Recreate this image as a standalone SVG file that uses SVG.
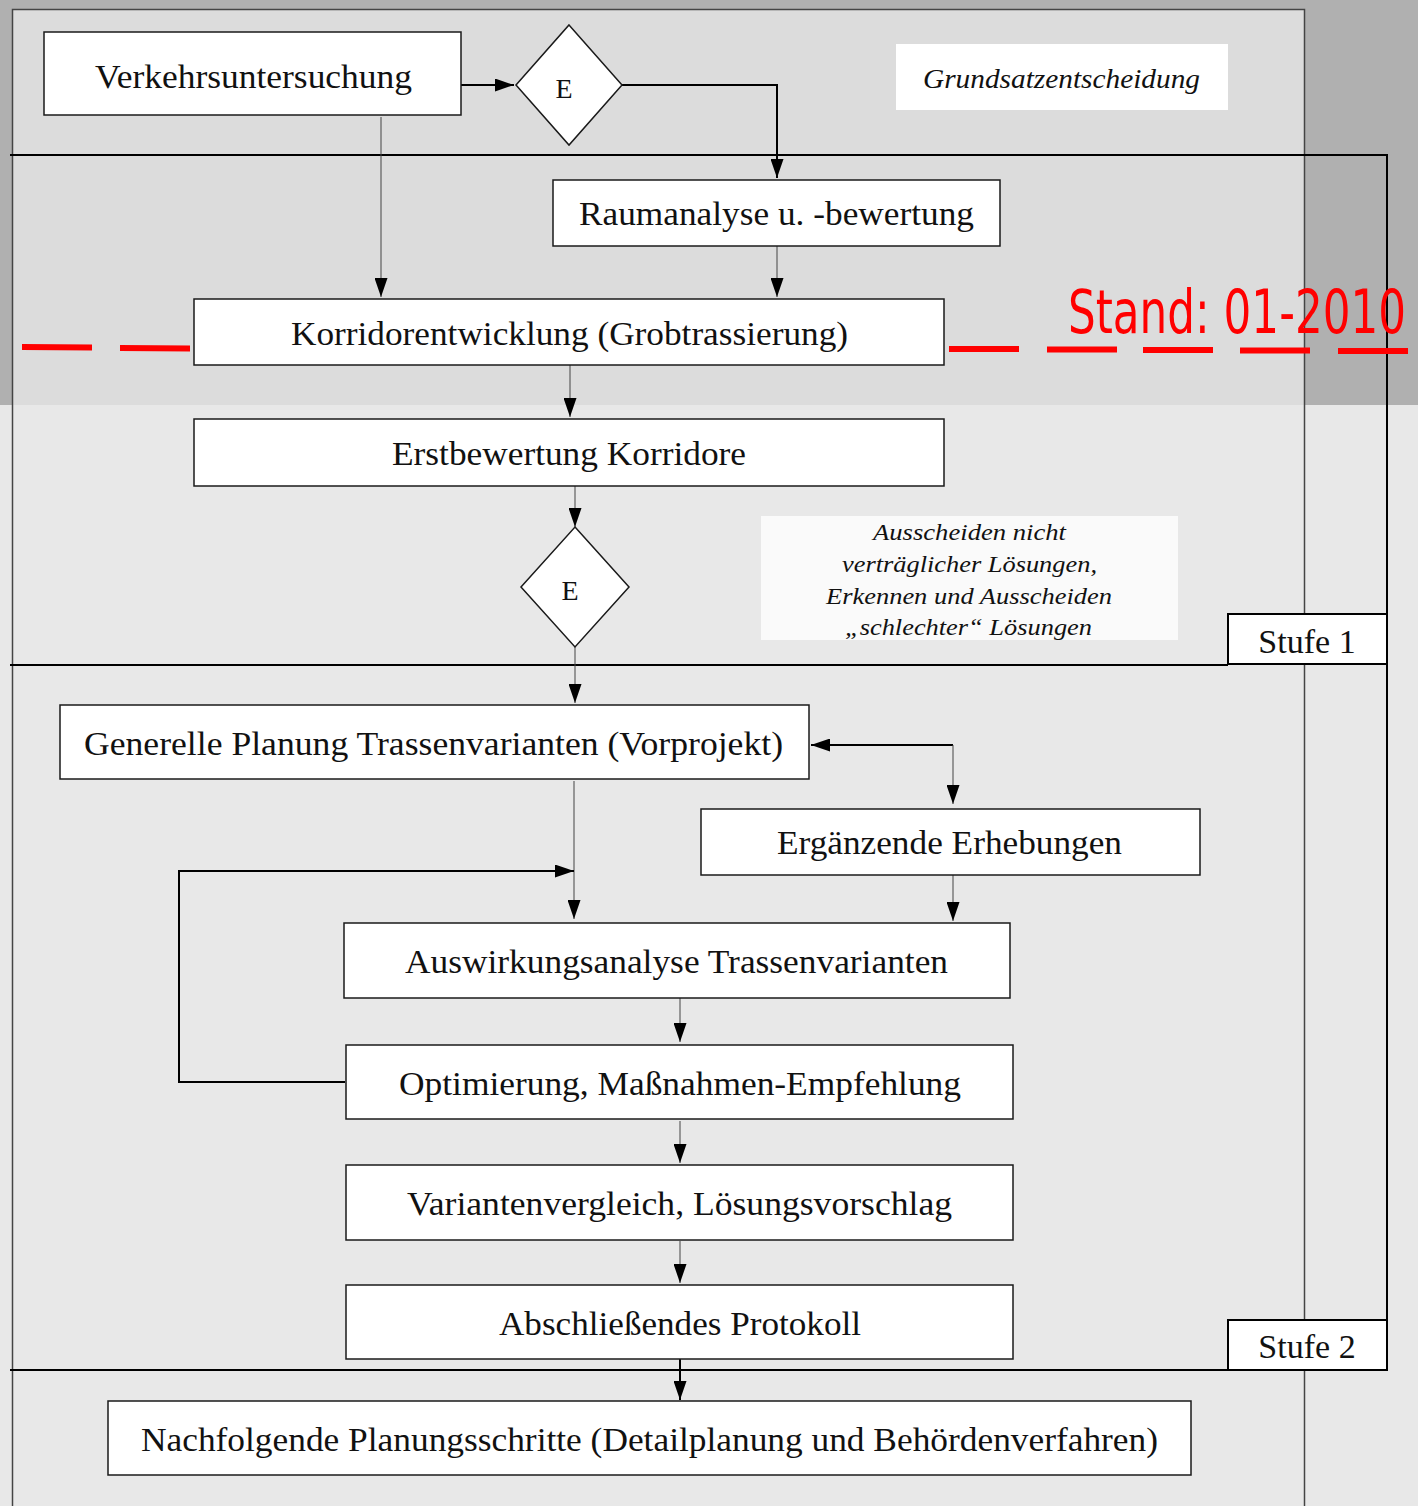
<svg xmlns="http://www.w3.org/2000/svg" width="1418" height="1506" viewBox="0 0 1418 1506">
<style>
.box{fill:#fff;stroke:#1a1a1a;stroke-width:1.5}
.t{font-family:"Liberation Serif","Times New Roman",serif;font-size:34px;fill:#111;text-anchor:middle}
.it{font-family:"Liberation Serif","Times New Roman",serif;font-style:italic;fill:#111;text-anchor:middle}
.thin{fill:none;stroke:#444;stroke-width:1}
.thick{fill:none;stroke:#000;stroke-width:2}
.frame{fill:none;stroke:#000;stroke-width:2}
.red{stroke:#ff0000;stroke-width:6}
</style>
<defs>
<marker id="ah" markerUnits="userSpaceOnUse" markerWidth="19" markerHeight="13" refX="19" refY="6.5" orient="auto-start-reverse" viewBox="0 0 19 13">
<path d="M0,0 L19,6.5 L0,13 z" fill="#000"/>
</marker>
</defs>
<g id="background">
<rect x="0" y="0" width="1418" height="1506" fill="#e8e8e8"/>
<rect x="0" y="0" width="1418" height="405" fill="#b0b0b0"/>
<rect x="12" y="9" width="1292" height="396" fill="#dcdcdc"/>
<path d="M12.5,1506 V9.5 H1304.5 V1506" fill="none" stroke="#444" stroke-width="1.5"/>
</g>
<g id="frame">
<path class="frame" d="M10,155 H1387 V1370 H10"/>
<path class="frame" d="M10,665 H1228"/>
</g>
<g id="connectors">
<path class="thick" d="M461,85 H514" marker-end="url(#ah)"/>
<path class="thick" d="M622,85 H777 V178" marker-end="url(#ah)"/>
<path class="thin" d="M381,117 V297" marker-end="url(#ah)"/>
<path class="thin" d="M777,246 V297" marker-end="url(#ah)"/>
<path class="thin" d="M570,365 V417" marker-end="url(#ah)"/>
<path class="thin" d="M575,486 V527" marker-end="url(#ah)"/>
<path class="thin" d="M575,647 V703" marker-end="url(#ah)"/>
<path class="thick" d="M811,745 H953" marker-start="url(#ah)"/>
<path class="thin" d="M953,745 V804" marker-end="url(#ah)"/>
<path class="thin" d="M574,781 V919" marker-end="url(#ah)"/>
<path class="thin" d="M953,875 V921" marker-end="url(#ah)"/>
<path class="thick" d="M345,1082 H178 M179,1082 V871 H574" marker-end="url(#ah)"/>
<path class="thin" d="M680,998 V1042" marker-end="url(#ah)"/>
<path class="thin" d="M680,1121 V1163" marker-end="url(#ah)"/>
<path class="thin" d="M680,1241 V1283" marker-end="url(#ah)"/>
<path class="thick" d="M680,1359 V1400" marker-end="url(#ah)"/>
</g>
<g id="n-verkehr">
<rect class="box" x="44" y="32" width="417" height="83"/>
<text class="t" x="253.5" y="88" textLength="317" lengthAdjust="spacingAndGlyphs">Verkehrsuntersuchung</text>
</g>
<g id="n-e1">
<polygon class="box" points="569,25 622,85 569,145 516,85"/>
<text class="t" x="564" y="98" style="font-size:28px">E</text>
</g>
<g id="n-grundsatz">
<rect x="896" y="44" width="332" height="66" fill="#fff"/>
<text class="it" x="1061.5" y="88" style="font-size:28px" textLength="277" lengthAdjust="spacingAndGlyphs">Grundsatzentscheidung</text>
</g>
<g id="n-raum">
<rect class="box" x="553" y="180" width="447" height="66"/>
<text class="t" x="776.5" y="225" textLength="395" lengthAdjust="spacingAndGlyphs">Raumanalyse u. -bewertung</text>
</g>
<g id="n-korridor">
<rect class="box" x="194" y="299" width="750" height="66"/>
<text class="t" x="569.5" y="345" textLength="557" lengthAdjust="spacingAndGlyphs">Korridorentwicklung (Grobtrassierung)</text>
</g>
<g id="stand">
<line class="red" x1="22" y1="347" x2="92" y2="347.5"/>
<line class="red" x1="120" y1="348" x2="190" y2="348.5"/>
<line class="red" x1="949" y1="349" x2="1019" y2="349"/>
<line class="red" x1="1047" y1="349.5" x2="1117" y2="349.5"/>
<line class="red" x1="1143" y1="350" x2="1213" y2="350"/>
<line class="red" x1="1240" y1="350.5" x2="1310" y2="350.5"/>
<line class="red" x1="1338" y1="351" x2="1408" y2="351"/>
<text x="1068" y="333" font-family="'DejaVu Sans Condensed','Liberation Sans Narrow','Open Sans',sans-serif" font-size="60" fill="#ff0000" textLength="338" lengthAdjust="spacingAndGlyphs">Stand: 01-2010</text>
</g>
<g id="n-erst">
<rect class="box" x="194" y="419" width="750" height="67"/>
<text class="t" x="569" y="465" textLength="354" lengthAdjust="spacingAndGlyphs">Erstbewertung Korridore</text>
</g>
<g id="n-e2">
<polygon class="box" points="575,527 629,587 575,647 521,587"/>
<text class="t" x="570" y="600" style="font-size:28px">E</text>
</g>
<g id="n-note">
<rect x="761" y="516" width="417" height="124" fill="#fafafa"/>
<text class="it" style="font-size:24px" x="969.5" y="540" textLength="193" lengthAdjust="spacingAndGlyphs">Ausscheiden nicht</text>
<text class="it" style="font-size:24px" x="969.5" y="572" textLength="255" lengthAdjust="spacingAndGlyphs">verträglicher Lösungen,</text>
<text class="it" style="font-size:24px" x="969" y="604" textLength="286" lengthAdjust="spacingAndGlyphs">Erkennen und Ausscheiden</text>
<text class="it" style="font-size:24px" x="968.5" y="635" textLength="247" lengthAdjust="spacingAndGlyphs">„schlechter“ Lösungen</text>
</g>
<g id="n-stufe1">
<rect x="1228" y="614" width="159" height="50" fill="#fff" stroke="#000" stroke-width="2"/>
<text class="t" x="1307" y="653">Stufe 1</text>
</g>
<g id="n-generelle">
<rect class="box" x="60" y="705" width="749" height="74"/>
<text class="t" x="433.5" y="755" textLength="699" lengthAdjust="spacingAndGlyphs">Generelle Planung Trassenvarianten (Vorprojekt)</text>
</g>
<g id="n-ergaenzende">
<rect class="box" x="701" y="809" width="499" height="66"/>
<text class="t" x="949.5" y="854" textLength="345" lengthAdjust="spacingAndGlyphs">Ergänzende Erhebungen</text>
</g>
<g id="n-auswirkung">
<rect class="box" x="344" y="923" width="666" height="75"/>
<text class="t" x="676.5" y="973" textLength="543" lengthAdjust="spacingAndGlyphs">Auswirkungsanalyse Trassenvarianten</text>
</g>
<g id="n-optimierung">
<rect class="box" x="346" y="1045" width="667" height="74"/>
<text class="t" x="680" y="1095" textLength="562" lengthAdjust="spacingAndGlyphs">Optimierung, Maßnahmen-Empfehlung</text>
</g>
<g id="n-varianten">
<rect class="box" x="346" y="1165" width="667" height="75"/>
<text class="t" x="679.5" y="1215" textLength="545" lengthAdjust="spacingAndGlyphs">Variantenvergleich, Lösungsvorschlag</text>
</g>
<g id="n-protokoll">
<rect class="box" x="346" y="1285" width="667" height="74"/>
<text class="t" x="680" y="1335" textLength="362" lengthAdjust="spacingAndGlyphs">Abschließendes Protokoll</text>
</g>
<g id="n-stufe2">
<rect x="1228" y="1320" width="159" height="50" fill="#fff" stroke="#000" stroke-width="2"/>
<text class="t" x="1307" y="1358">Stufe 2</text>
</g>
<g id="n-nachfolgende">
<rect class="box" x="108" y="1401" width="1083" height="74"/>
<text class="t" x="649.5" y="1451" textLength="1017" lengthAdjust="spacingAndGlyphs">Nachfolgende Planungsschritte (Detailplanung und Behördenverfahren)</text>
</g>
</svg>
